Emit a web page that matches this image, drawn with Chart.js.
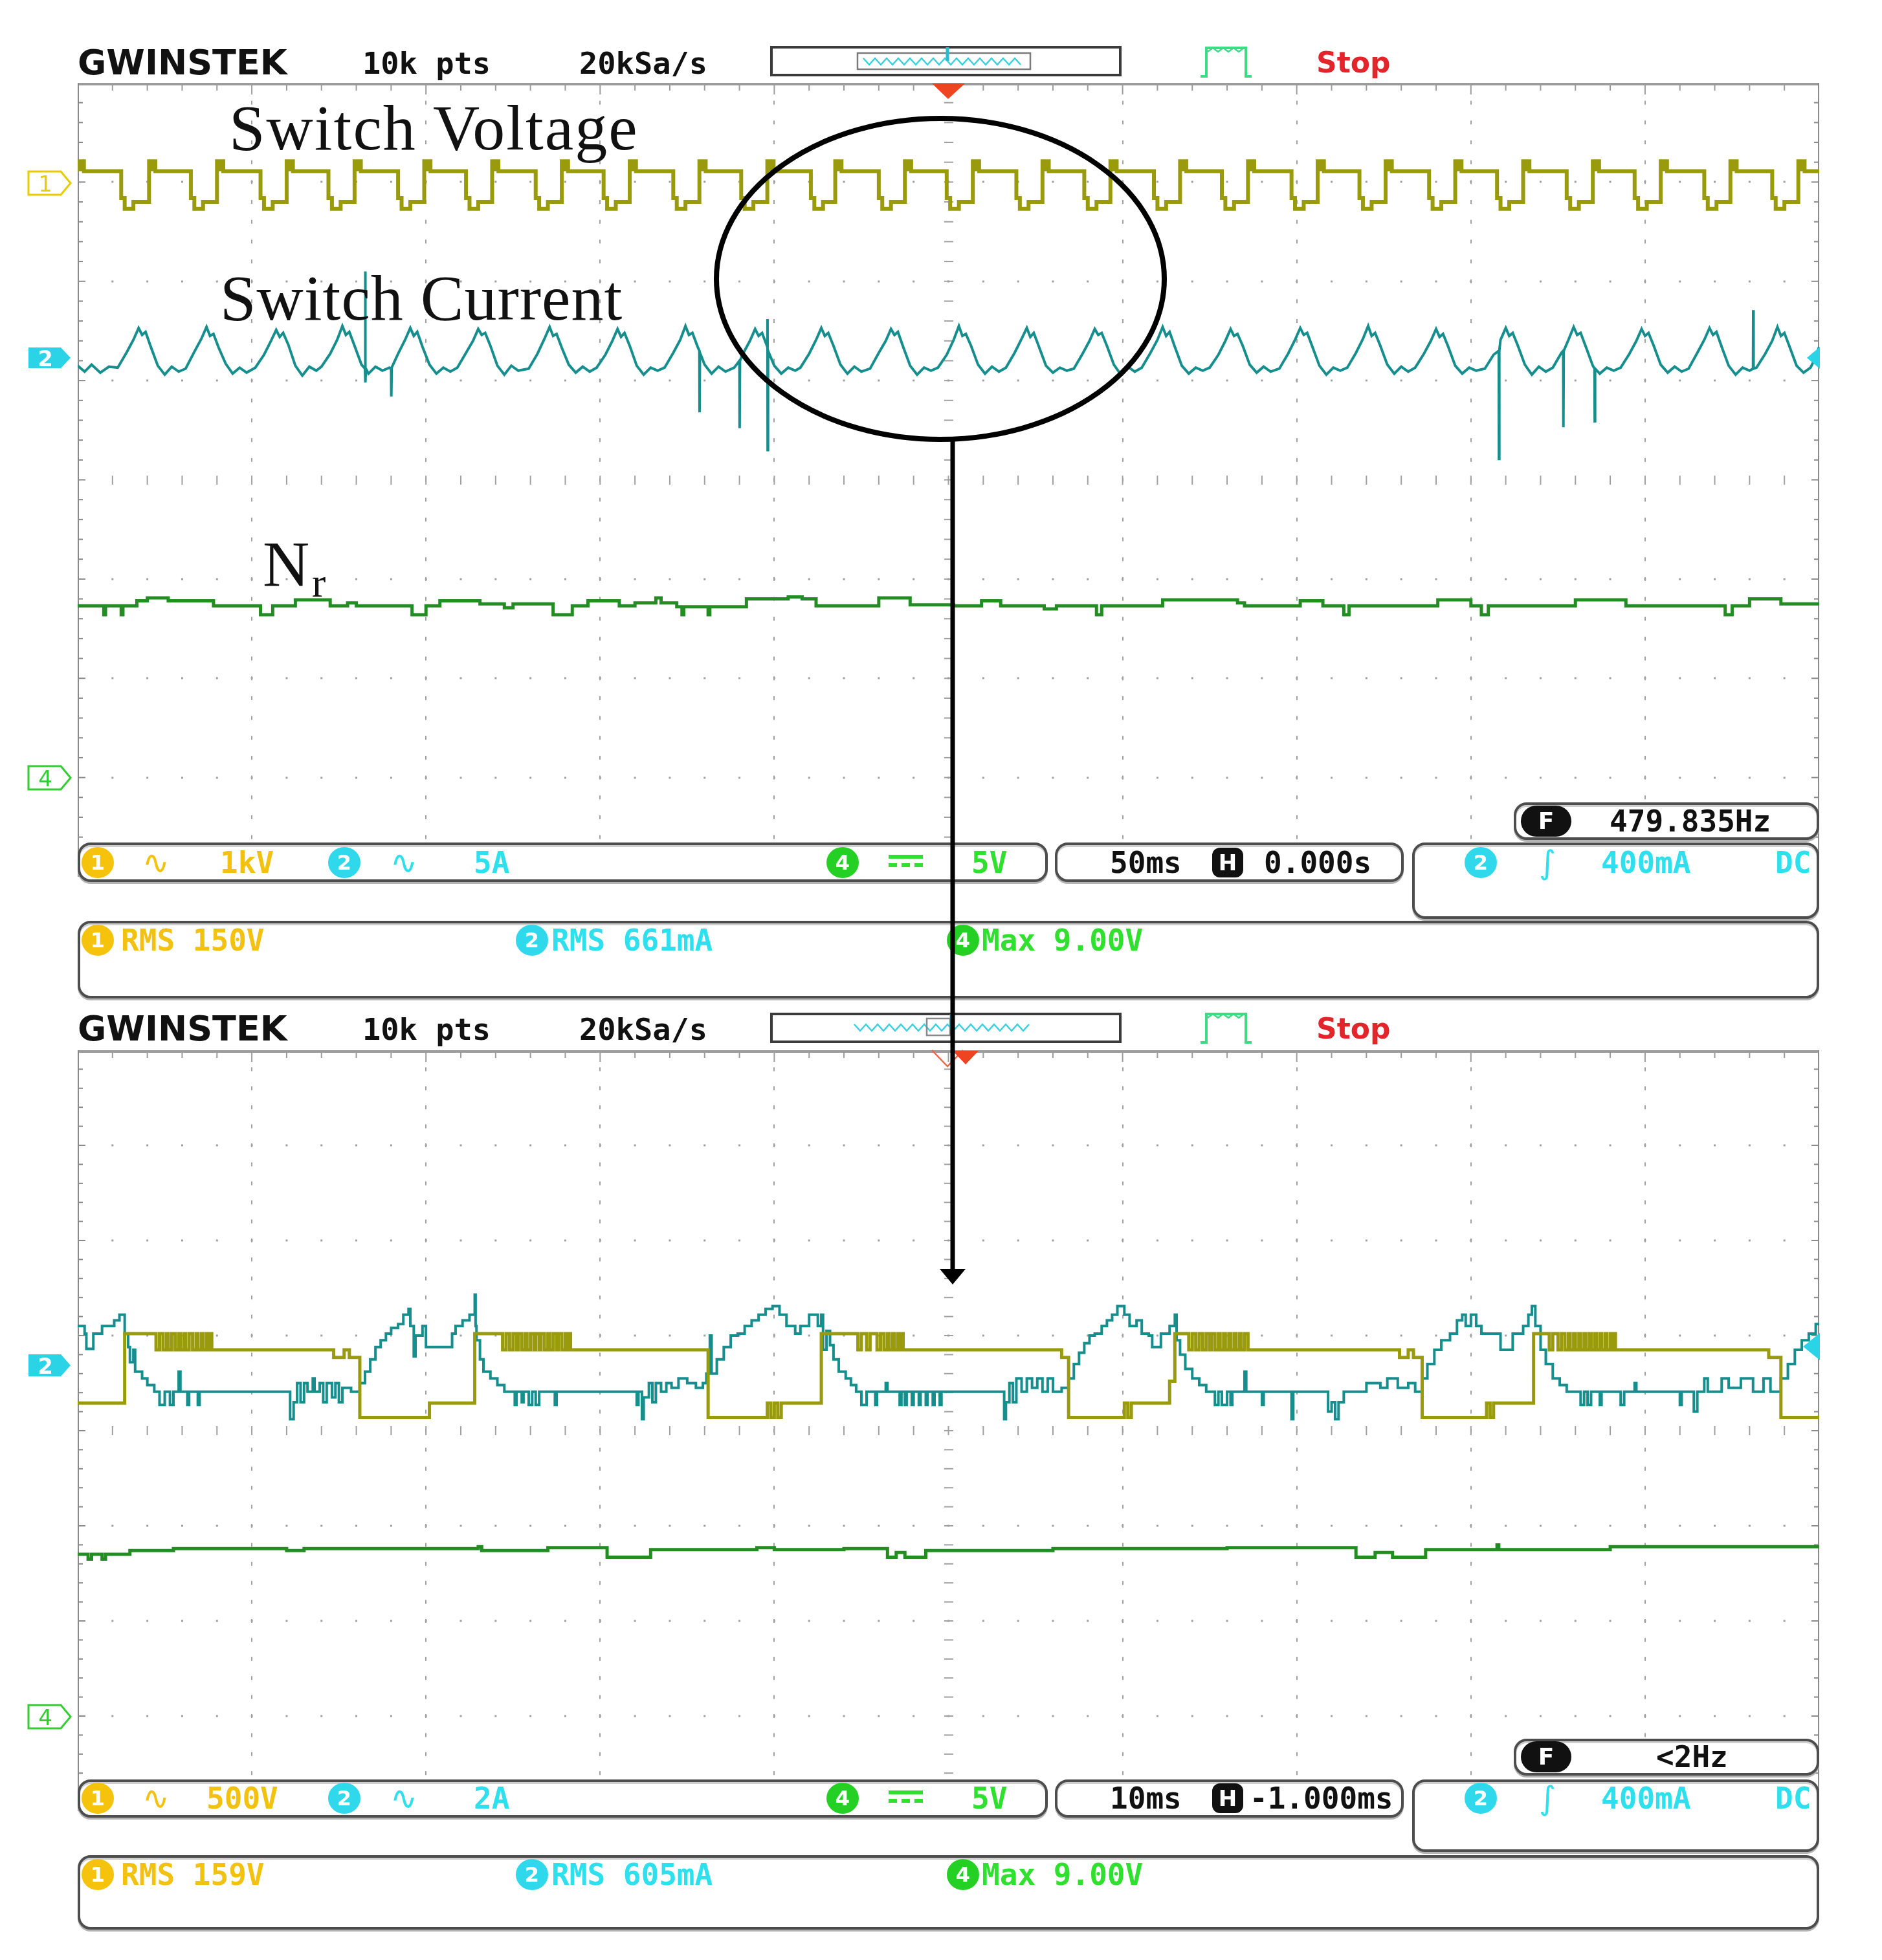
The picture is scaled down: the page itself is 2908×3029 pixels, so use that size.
<!DOCTYPE html>
<html><head><meta charset="utf-8">
<script src="https://cdn.jsdelivr.net/npm/chart.js@4.4.0/dist/chart.umd.min.js"></script>
<style>
html,body{margin:0;padding:0;background:#fff;}
body{width:2908px;height:3029px;position:relative;overflow:hidden;}
canvas{position:absolute;z-index:1;}
.abs{position:absolute;}
.bar{position:absolute;box-sizing:border-box;border:4px solid #4d4d4d;border-radius:20px;background:#fff;box-shadow:0 3px 0 #b4b4b4, inset 0 3px 0 #cfcfcf;z-index:4;}
.t{position:absolute;font-family:'DejaVu Sans Mono',monospace;font-size:46px;line-height:1;transform:translateY(-50%);white-space:pre;z-index:5;font-weight:bold;}
.k{color:#111;}
.y{color:#f3c210;}
.c{color:#2ee0ee;}
.g{color:#2fe02f;}
.sym{font-family:'DejaVu Sans',sans-serif;font-size:50px;font-weight:normal;}
.ci{position:absolute;width:50px;height:48px;border-radius:50%;color:#fff;font:bold 32px 'DejaVu Sans',sans-serif;text-align:center;line-height:48px;transform:translateY(-50%);z-index:5;}
.cy{background:#f5c20c;}
.cc{background:#2fd8ea;}
.cg{background:#25d025;}
.hicon{position:absolute;width:48px;height:46px;background:#111;border-radius:12px;color:#fff;font:bold 34px 'DejaVu Sans',sans-serif;text-align:center;line-height:46px;transform:translateY(-50%);z-index:5;}
.ficon{position:absolute;width:78px;height:48px;background:#111;border-radius:24px;color:#fff;font:bold 36px 'DejaVu Sans',sans-serif;text-align:center;line-height:48px;transform:translateY(-50%);z-index:5;}
.hdr{position:absolute;font-family:'DejaVu Sans Mono',monospace;font-weight:bold;font-size:47px;line-height:1;transform:translateY(-50%);color:#111;white-space:pre;z-index:3;}
.logo{position:absolute;font-family:'DejaVu Sans',sans-serif;font-weight:bold;font-size:54px;line-height:1;transform:translateY(-50%);color:#111;z-index:3;}
.stop{position:absolute;font-family:'DejaVu Sans',sans-serif;font-weight:bold;font-size:44px;line-height:1;transform:translateY(-50%);color:#e3242b;z-index:3;}
.ann{position:absolute;font-family:'Liberation Serif','Times New Roman',serif;color:#111;line-height:1;white-space:pre;z-index:3;}
svg{position:absolute;left:0;top:0;}
</style></head><body>
<script>
// ===== DATA (x in divisions 0..10, y in divisions -4..4) =====
// Top screen, 50ms/div
const TOP_CH1 = [
[0.000,3.21],[0.012,3.13],[0.024,3.21],[0.036,3.11],[0.25,2.84],[0.27,2.73],[0.32,2.80],
[0.410,3.21],[0.422,3.13],[0.434,3.21],[0.446,3.11],[0.65,2.84],[0.67,2.73],[0.72,2.80],
[0.800,3.21],[0.812,3.13],[0.824,3.21],[0.836,3.11],[1.05,2.84],[1.07,2.73],[1.12,2.80],
[1.200,3.21],[1.212,3.13],[1.224,3.21],[1.236,3.11],[1.44,2.84],[1.46,2.73],[1.51,2.80],
[1.590,3.21],[1.602,3.13],[1.614,3.21],[1.626,3.11],[1.84,2.84],[1.86,2.73],[1.91,2.80],
[1.990,3.21],[2.002,3.13],[2.014,3.21],[2.026,3.11],[2.23,2.84],[2.25,2.73],[2.30,2.80],
[2.380,3.21],[2.392,3.13],[2.404,3.21],[2.416,3.11],[2.63,2.84],[2.65,2.73],[2.70,2.80],
[2.780,3.21],[2.792,3.13],[2.804,3.21],[2.816,3.11],[3.02,2.84],[3.04,2.73],[3.09,2.80],
[3.170,3.21],[3.182,3.13],[3.194,3.21],[3.206,3.11],[3.42,2.84],[3.44,2.73],[3.49,2.80],
[3.570,3.21],[3.582,3.13],[3.594,3.21],[3.606,3.11],[3.81,2.84],[3.83,2.73],[3.88,2.80],
[3.960,3.21],[3.972,3.13],[3.984,3.21],[3.996,3.11],[4.21,2.84],[4.23,2.73],[4.28,2.80],
[4.350,3.21],[4.362,3.13],[4.374,3.21],[4.386,3.11],[4.60,2.84],[4.62,2.73],[4.67,2.80],
[4.750,3.21],[4.762,3.13],[4.774,3.21],[4.786,3.11],[4.99,2.84],[5.01,2.73],[5.06,2.80],
[5.140,3.21],[5.152,3.13],[5.164,3.21],[5.176,3.11],[5.39,2.84],[5.41,2.73],[5.46,2.80],
[5.540,3.21],[5.552,3.13],[5.564,3.21],[5.576,3.11],[5.78,2.84],[5.80,2.73],[5.85,2.80],
[5.930,3.21],[5.942,3.13],[5.954,3.21],[5.966,3.11],[6.18,2.84],[6.20,2.73],[6.25,2.80],
[6.330,3.21],[6.342,3.13],[6.354,3.21],[6.366,3.11],[6.57,2.84],[6.59,2.73],[6.64,2.80],
[6.720,3.21],[6.732,3.13],[6.744,3.21],[6.756,3.11],[6.97,2.84],[6.99,2.73],[7.04,2.80],
[7.120,3.21],[7.132,3.13],[7.144,3.21],[7.156,3.11],[7.36,2.84],[7.38,2.73],[7.43,2.80],
[7.510,3.21],[7.522,3.13],[7.534,3.21],[7.546,3.11],[7.76,2.84],[7.78,2.73],[7.83,2.80],
[7.910,3.21],[7.922,3.13],[7.934,3.21],[7.946,3.11],[8.15,2.84],[8.17,2.73],[8.22,2.80],
[8.300,3.21],[8.312,3.13],[8.324,3.21],[8.336,3.11],[8.55,2.84],[8.57,2.73],[8.62,2.80],
[8.700,3.21],[8.712,3.13],[8.724,3.21],[8.736,3.11],[8.94,2.84],[8.96,2.73],[9.01,2.80],
[9.090,3.21],[9.102,3.13],[9.114,3.21],[9.126,3.11],[9.34,2.84],[9.36,2.73],[9.41,2.80],
[9.490,3.21],[9.502,3.13],[9.514,3.21],[9.526,3.11],[9.73,2.84],[9.75,2.73],[9.80,2.80],
[9.880,3.21],[9.892,3.13],[9.904,3.21],[9.916,3.11],[10.00,3.11]
];
const TOP_CH2 = [
[0.00,1.15],[0.04,1.09],[0.08,1.16],[0.13,1.08],[0.18,1.14],
[0.23,1.13],[0.28,1.28],[0.32,1.41],[0.35,1.53],[0.37,1.46],[0.39,1.49],[0.42,1.34],[0.46,1.15],[0.50,1.06],[0.54,1.14],[0.58,1.09],
[0.62,1.12],[0.67,1.29],[0.71,1.42],[0.74,1.54],[0.76,1.45],[0.78,1.47],[0.81,1.33],[0.85,1.17],[0.89,1.07],[0.93,1.13],[0.97,1.08],
[1.02,1.13],[1.07,1.26],[1.11,1.40],[1.14,1.51],[1.16,1.44],[1.18,1.48],[1.21,1.36],[1.25,1.15],[1.29,1.05],[1.33,1.14],[1.37,1.10],
[1.40,1.14],[1.45,1.27],[1.49,1.41],[1.52,1.55],[1.54,1.46],[1.56,1.49],[1.59,1.35],[1.63,1.16],[1.65,1.12],[1.651,2.10],[1.653,0.98],[1.655,1.12],[1.67,1.07],[1.71,1.14],[1.75,1.10],
[1.79,1.13],[1.80,1.12],[1.801,0.84],[1.803,1.13],[1.84,1.27],[1.88,1.41],[1.91,1.53],[1.93,1.45],[1.95,1.49],[1.98,1.34],[2.02,1.16],[2.06,1.07],[2.10,1.13],[2.14,1.09],
[2.18,1.13],[2.23,1.28],[2.27,1.40],[2.30,1.52],[2.32,1.46],[2.34,1.48],[2.37,1.35],[2.41,1.15],[2.45,1.06],[2.49,1.15],[2.53,1.10],
[2.59,1.12],[2.64,1.27],[2.68,1.42],[2.71,1.54],[2.73,1.45],[2.75,1.47],[2.78,1.33],[2.82,1.16],[2.86,1.08],[2.90,1.14],[2.94,1.09],
[2.98,1.13],[3.03,1.26],[3.07,1.40],[3.10,1.52],[3.12,1.44],[3.14,1.48],[3.17,1.35],[3.21,1.15],[3.25,1.06],[3.29,1.13],[3.33,1.10],
[3.37,1.13],[3.42,1.28],[3.46,1.41],[3.49,1.55],[3.51,1.46],[3.53,1.48],[3.56,1.34],[3.57,1.30],[3.571,0.68],[3.573,1.28],[3.60,1.16],[3.64,1.07],[3.68,1.14],[3.72,1.09],
[3.77,1.13],[3.80,1.20],[3.801,0.52],[3.803,1.20],[3.82,1.27],[3.86,1.40],[3.89,1.52],[3.91,1.45],[3.93,1.48],[3.96,1.34],[3.961,1.62],[3.962,0.30],[3.964,1.30],[4.00,1.15],[4.04,1.07],[4.08,1.13],[4.12,1.10],
[4.15,1.13],[4.20,1.27],[4.24,1.41],[4.27,1.53],[4.29,1.45],[4.31,1.48],[4.34,1.35],[4.38,1.16],[4.42,1.07],[4.46,1.14],[4.50,1.09],
[4.55,1.12],[4.60,1.28],[4.64,1.40],[4.67,1.52],[4.69,1.46],[4.71,1.49],[4.74,1.34],[4.78,1.15],[4.82,1.06],[4.86,1.13],[4.90,1.10],
[4.94,1.13],[4.99,1.26],[5.03,1.41],[5.06,1.55],[5.08,1.45],[5.10,1.47],[5.13,1.35],[5.17,1.16],[5.21,1.07],[5.25,1.14],[5.29,1.09],
[5.33,1.13],[5.38,1.28],[5.42,1.42],[5.45,1.53],[5.47,1.44],[5.49,1.48],[5.52,1.34],[5.56,1.15],[5.60,1.08],[5.64,1.13],[5.68,1.10],
[5.72,1.12],[5.77,1.27],[5.81,1.40],[5.84,1.52],[5.86,1.46],[5.88,1.48],[5.91,1.35],[5.95,1.16],[5.99,1.06],[6.03,1.14],[6.07,1.09],
[6.11,1.13],[6.16,1.28],[6.20,1.41],[6.23,1.54],[6.25,1.45],[6.27,1.49],[6.30,1.34],[6.34,1.15],[6.38,1.07],[6.42,1.13],[6.46,1.10],
[6.50,1.13],[6.55,1.26],[6.59,1.40],[6.62,1.52],[6.64,1.45],[6.66,1.47],[6.69,1.35],[6.73,1.16],[6.77,1.08],[6.81,1.14],[6.85,1.09],
[6.90,1.12],[6.95,1.27],[6.99,1.41],[7.02,1.53],[7.04,1.46],[7.06,1.48],[7.09,1.34],[7.13,1.15],[7.17,1.06],[7.21,1.13],[7.25,1.10],
[7.29,1.13],[7.34,1.28],[7.38,1.42],[7.41,1.55],[7.43,1.45],[7.45,1.48],[7.48,1.35],[7.52,1.16],[7.56,1.07],[7.60,1.14],[7.64,1.09],
[7.68,1.13],[7.73,1.27],[7.77,1.40],[7.80,1.52],[7.82,1.44],[7.84,1.47],[7.87,1.34],[7.91,1.15],[7.95,1.07],[7.99,1.13],[8.03,1.10],
[8.08,1.12],[8.13,1.26],[8.16,1.30],[8.161,0.21],[8.163,1.30],[8.17,1.41],[8.20,1.53],[8.22,1.45],[8.24,1.48],[8.27,1.35],[8.31,1.16],[8.35,1.06],[8.39,1.14],[8.43,1.09],
[8.47,1.13],[8.52,1.28],[8.53,1.30],[8.531,0.53],[8.533,1.30],[8.56,1.41],[8.59,1.54],[8.61,1.46],[8.63,1.48],[8.66,1.34],[8.70,1.15],[8.71,1.12],[8.711,0.59],[8.713,1.12],[8.74,1.07],[8.78,1.13],[8.82,1.10],
[8.86,1.13],[8.91,1.27],[8.95,1.40],[8.98,1.52],[9.00,1.45],[9.02,1.48],[9.05,1.35],[9.09,1.16],[9.13,1.08],[9.17,1.14],[9.21,1.09],
[9.25,1.12],[9.30,1.28],[9.34,1.41],[9.37,1.53],[9.39,1.46],[9.41,1.49],[9.44,1.34],[9.48,1.15],[9.52,1.06],[9.56,1.13],[9.60,1.10],[9.62,1.12],[9.621,1.71],[9.623,1.12],
[9.64,1.13],[9.69,1.27],[9.73,1.40],[9.76,1.54],[9.78,1.45],[9.80,1.48],[9.83,1.34],[9.87,1.15],[9.91,1.08],[9.95,1.13],[9.97,1.20],[10.00,1.34]
];
const TOP_CH4 = [
[0.00,-1.27],[0.15,-1.36],[0.16,-1.27],[0.25,-1.36],[0.26,-1.27],[0.34,-1.22],[0.40,-1.19],[0.52,-1.22],[0.78,-1.27],
[1.05,-1.36],[1.12,-1.27],[1.25,-1.21],[1.45,-1.27],[1.55,-1.24],[1.60,-1.27],[1.92,-1.36],[2.00,-1.27],
[2.08,-1.22],[2.31,-1.25],[2.45,-1.29],[2.50,-1.25],[2.73,-1.36],[2.84,-1.27],[2.93,-1.22],[3.11,-1.27],
[3.20,-1.24],[3.32,-1.19],[3.35,-1.24],[3.44,-1.28],[3.47,-1.36],[3.48,-1.28],[3.62,-1.36],[3.63,-1.28],
[3.84,-1.20],[4.08,-1.18],[4.16,-1.20],[4.24,-1.27],[4.60,-1.19],[4.78,-1.26],[5.03,-1.27],[5.19,-1.22],
[5.30,-1.27],[5.55,-1.30],[5.62,-1.27],[5.85,-1.36],[5.88,-1.27],[6.23,-1.21],[6.66,-1.24],[6.70,-1.27],
[7.02,-1.22],[7.15,-1.27],[7.27,-1.36],[7.30,-1.27],[7.81,-1.21],[8.00,-1.27],[8.06,-1.36],[8.10,-1.27],
[8.60,-1.21],[8.89,-1.27],[9.46,-1.36],[9.50,-1.27],[9.60,-1.20],[9.78,-1.25],[10.00,-1.25]
];
// Bottom screen, 10ms/div
const BOT_CH1 = [
[0.00,0.29],
[0.27,1.02],[0.45,0.85],[0.47,1.02],[0.49,0.85],[0.51,1.02],[0.52,0.85],[0.54,1.02],[0.56,0.85],[0.58,1.02],[0.59,0.85],[0.61,1.02],[0.62,0.85],[0.64,1.02],[0.66,0.85],[0.68,1.02],[0.69,0.85],[0.71,1.02],[0.72,0.85],[0.74,1.02],[0.75,0.85],[0.76,1.02],[0.77,0.85],
[1.47,0.77],[1.53,0.85],[1.56,0.77],[1.62,0.14],[2.02,0.29],
[2.28,1.02],[2.44,0.85],[2.46,1.02],[2.48,0.85],[2.50,1.02],[2.52,0.85],[2.53,1.02],[2.55,0.85],[2.57,1.02],[2.58,0.85],[2.60,1.02],[2.62,0.85],[2.63,1.02],[2.65,0.85],[2.66,1.02],[2.68,0.85],[2.70,1.02],[2.71,0.85],[2.73,1.02],[2.75,0.85],[2.76,1.02],[2.78,0.85],[2.80,1.02],[2.81,0.85],[2.82,1.02],[2.83,0.85],
[3.62,0.14],[3.96,0.29],[3.98,0.14],[4.00,0.29],[4.02,0.14],[4.04,0.29],
[4.27,1.02],[4.48,0.85],[4.50,1.02],[4.53,0.85],[4.55,1.02],[4.59,0.85],[4.61,1.02],[4.63,0.85],[4.65,1.02],[4.66,0.85],[4.68,1.02],[4.69,0.85],[4.71,1.02],[4.72,0.85],[4.73,1.02],[4.74,0.85],
[5.65,0.77],[5.69,0.14],[6.01,0.29],[6.03,0.14],[6.05,0.29],[6.27,0.52],
[6.30,1.02],[6.38,0.85],[6.40,1.02],[6.42,0.85],[6.44,1.02],[6.46,0.85],[6.48,1.02],[6.50,0.85],[6.51,1.02],[6.53,0.85],[6.55,1.02],[6.56,0.85],[6.58,1.02],[6.59,0.85],[6.61,1.02],[6.62,0.85],[6.64,1.02],[6.65,0.85],[6.67,1.02],[6.68,0.85],[6.70,1.02],[6.72,0.85],
[7.59,0.77],[7.64,0.85],[7.67,0.77],[7.72,0.14],[8.09,0.29],[8.11,0.14],[8.13,0.29],
[8.36,1.02],[8.45,0.85],[8.47,1.02],[8.50,0.85],[8.52,1.02],[8.54,0.85],[8.56,1.02],[8.57,0.85],[8.59,1.02],[8.60,0.85],[8.62,1.02],[8.63,0.85],[8.65,1.02],[8.66,0.85],[8.68,1.02],[8.69,0.85],[8.71,1.02],[8.72,0.85],[8.74,1.02],[8.75,0.85],[8.77,1.02],[8.78,0.85],[8.80,1.02],[8.81,0.85],[8.82,1.02],[8.83,0.85],
[9.71,0.77],[9.78,0.14],[10.00,0.14]
];
const BOT_CH2 = [
[0.00,1.10],[0.04,1.02],[0.05,0.86],[0.09,1.02],[0.14,1.10],[0.21,1.16],[0.24,1.22],[0.27,1.02],[0.29,0.88],[0.30,0.72],[0.32,0.85],[0.33,0.62],[0.37,0.55],[0.40,0.48],[0.44,0.41],
[0.47,0.27],[0.50,0.41],[0.53,0.27],[0.55,0.41],[0.58,0.62],[0.59,0.41],[0.63,0.27],[0.64,0.41],[0.69,0.27],[0.70,0.41],
[1.22,0.12],[1.24,0.30],[1.26,0.50],[1.28,0.30],[1.30,0.50],[1.32,0.41],[1.35,0.55],[1.36,0.41],[1.39,0.50],[1.41,0.30],[1.43,0.50],[1.46,0.35],[1.48,0.50],[1.50,0.30],[1.52,0.45],[1.57,0.41],
[1.62,0.50],[1.65,0.62],[1.68,0.75],[1.71,0.88],[1.74,0.95],[1.77,1.02],[1.80,1.08],[1.84,1.12],[1.87,1.22],[1.90,1.28],[1.91,1.10],[1.93,0.78],[1.94,1.00],[1.98,1.10],[2.00,0.88],[2.15,1.02],[2.17,1.10],[2.21,1.16],[2.25,1.22],[2.28,1.43],[2.285,1.10],[2.29,0.95],[2.31,0.75],[2.33,0.62],[2.37,0.55],[2.41,0.48],[2.45,0.41],
[2.51,0.27],[2.52,0.41],[2.55,0.30],[2.56,0.41],[2.59,0.27],[2.61,0.41],[2.63,0.27],[2.65,0.41],[2.74,0.27],[2.75,0.41],
[3.21,0.27],[3.22,0.41],[3.24,0.12],[3.25,0.35],[3.28,0.50],[3.30,0.30],[3.32,0.50],[3.35,0.41],[3.38,0.50],[3.41,0.45],[3.45,0.55],[3.50,0.50],[3.55,0.45],[3.59,0.50],
[3.61,0.60],[3.63,1.00],[3.64,0.60],[3.67,0.75],[3.71,0.88],[3.75,1.00],[3.79,1.02],[3.83,1.10],[3.87,1.16],[3.91,1.22],[3.95,1.28],[3.99,1.31],[4.03,1.22],[4.07,1.10],[4.12,1.02],[4.15,1.10],[4.20,1.22],[4.25,1.10],[4.27,1.22],[4.28,0.85],[4.30,1.05],[4.32,0.90],[4.34,0.75],[4.37,0.62],[4.41,0.55],[4.44,0.48],[4.47,0.41],
[4.50,0.27],[4.53,0.41],[4.58,0.27],[4.59,0.41],[4.64,0.50],[4.65,0.41],[4.72,0.27],[4.73,0.41],[4.75,0.27],[4.76,0.41],[4.79,0.27],[4.80,0.41],[4.83,0.27],[4.84,0.41],[4.87,0.27],[4.88,0.41],[4.91,0.27],[4.92,0.41],[4.95,0.27],[4.96,0.41],
[5.32,0.12],[5.33,0.30],[5.35,0.50],[5.37,0.30],[5.39,0.55],[5.42,0.41],[5.45,0.55],[5.48,0.45],[5.51,0.55],[5.54,0.41],[5.57,0.55],[5.60,0.41],[5.65,0.45],
[5.69,0.55],[5.72,0.70],[5.75,0.82],[5.78,0.92],[5.81,1.00],[5.84,1.02],[5.88,1.10],[5.91,1.16],[5.94,1.22],[5.97,1.31],[6.01,1.22],[6.04,1.10],[6.08,1.16],[6.11,1.02],[6.15,1.00],[6.17,0.88],[6.22,1.02],[6.27,1.10],[6.30,1.22],[6.31,0.95],[6.33,0.80],[6.36,0.65],[6.40,0.55],[6.44,0.48],[6.48,0.41],
[6.53,0.27],[6.55,0.41],[6.57,0.27],[6.60,0.41],[6.62,0.27],[6.63,0.41],[6.70,0.62],[6.71,0.41],[6.80,0.27],[6.81,0.41],[6.97,0.12],[6.98,0.41],[7.18,0.20],[7.20,0.30],[7.22,0.12],[7.24,0.30],[7.27,0.41],[7.40,0.50],[7.48,0.45],[7.52,0.55],[7.58,0.45],[7.64,0.50],[7.68,0.41],
[7.72,0.55],[7.75,0.70],[7.79,0.85],[7.83,0.95],[7.88,1.02],[7.92,1.16],[7.95,1.22],[7.97,1.10],[8.00,1.22],[8.03,1.10],[8.06,1.02],[8.17,0.85],[8.24,1.02],[8.30,1.10],[8.33,1.22],[8.35,1.31],[8.37,1.10],[8.40,0.85],[8.43,0.70],[8.47,0.55],[8.51,0.48],[8.55,0.41],
[8.63,0.27],[8.65,0.41],[8.67,0.27],[8.69,0.41],[8.74,0.27],[8.75,0.41],[8.86,0.27],[8.88,0.41],[8.94,0.50],[8.95,0.41],[9.20,0.27],[9.21,0.41],[9.28,0.20],[9.30,0.41],[9.34,0.55],[9.36,0.41],[9.44,0.55],[9.48,0.45],[9.55,0.55],[9.62,0.41],[9.68,0.55],[9.72,0.41],
[9.78,0.55],[9.82,0.70],[9.86,0.85],[9.90,0.95],[9.94,1.02],[9.98,1.12],[10.00,1.12]
];
const BOT_CH4 = [
[0.00,-1.30],[0.06,-1.35],[0.08,-1.30],[0.14,-1.35],[0.16,-1.30],[0.30,-1.26],[0.55,-1.24],[1.20,-1.26],[1.30,-1.24],
[2.30,-1.22],[2.32,-1.26],[2.70,-1.23],[3.04,-1.33],[3.29,-1.25],[3.90,-1.23],[4.00,-1.25],[4.40,-1.24],
[4.65,-1.33],[4.70,-1.28],[4.75,-1.33],[4.87,-1.26],[5.60,-1.24],[6.60,-1.23],[7.34,-1.33],[7.45,-1.28],
[7.55,-1.33],[7.74,-1.25],[8.15,-1.20],[8.16,-1.25],[8.80,-1.22],[10.00,-1.22]
];
const TRACE_COLORS = {ch1:'#999a0c', ch2:'#178e8e', ch4:'#238d23'};
</script>

<canvas id="c1" width="2691" height="1227" style="left:120px;top:128px"></canvas>
<canvas id="c2" width="2691" height="1176" style="left:120px;top:1623px"></canvas>

<svg id="deco" width="2908" height="3029" style="z-index:2">
  <rect x="1192" y="73" width="539" height="43" fill="#fff" stroke="#3a3a3a" stroke-width="4"/>
  <rect x="1325" y="82" width="267" height="25" fill="none" stroke="#7a7a7a" stroke-width="2.5"/>
  <polyline id="zz1" fill="none" stroke="#36d0e0" stroke-width="2.5"/>
  <line x1="1464" y1="73" x2="1464" y2="94" stroke="#22c0d0" stroke-width="5"/>
  <polyline points="1855,118 1864,118 1864,74 1925,74 1925,118 1934,118" fill="none" stroke="#3ddc84" stroke-width="4"/>
  <polyline points="1866,80 1874,74 1882,80 1890,74 1898,80 1906,74 1914,80 1922,74" fill="none" stroke="#3ddc84" stroke-width="2.5"/>
  <polygon points="1440,129 1491,129 1465,153" fill="#ee4422"/>
  <rect x="1192" y="1567" width="539" height="43" fill="#fff" stroke="#3a3a3a" stroke-width="4"/>
  <polyline id="zz2" fill="none" stroke="#36d0e0" stroke-width="2.5"/>
  <rect x="1432" y="1574" width="36" height="26" fill="none" stroke="#888" stroke-width="2.5"/>
  <line x1="1470" y1="1567" x2="1470" y2="1590" stroke="#22c0d0" stroke-width="5"/>
  <polyline points="1855,1611 1864,1611 1864,1567 1925,1567 1925,1611 1934,1611" fill="none" stroke="#3ddc84" stroke-width="4"/>
  <polyline points="1866,1573 1874,1567 1882,1573 1890,1567 1898,1573 1906,1567 1914,1573 1922,1567" fill="none" stroke="#3ddc84" stroke-width="2.5"/>
  <polyline points="1440,1623 1464,1648 1488,1623" fill="none" stroke="#ee6644" stroke-width="2.5"/>
  <polygon points="1472,1624 1512,1624 1492,1645" fill="#ee4422"/>
  <polygon points="44,265 94,265 109,283 94,301 44,301" fill="#fff" stroke="#e6cc00" stroke-width="3"/>
  <text x="70" y="296" font-family="DejaVu Sans" font-size="34" fill="#e6cc00" text-anchor="middle">1</text>
  <polygon points="44,537 94,537 109,553 94,569 44,569" fill="#2ad4e6"/>
  <text x="70" y="566" font-family="DejaVu Sans" font-weight="bold" font-size="34" fill="#fff" text-anchor="middle">2</text>
  <polygon points="44,1184 94,1184 109,1202 94,1220 44,1220" fill="#fff" stroke="#33cc33" stroke-width="3"/>
  <text x="70" y="1215" font-family="DejaVu Sans" font-size="34" fill="#33cc33" text-anchor="middle">4</text>
  <polygon points="44,2093 94,2093 109,2110 94,2127 44,2127" fill="#2ad4e6"/>
  <text x="70" y="2123" font-family="DejaVu Sans" font-weight="bold" font-size="34" fill="#fff" text-anchor="middle">2</text>
  <polygon points="44,2635 94,2635 109,2653 94,2671 44,2671" fill="#fff" stroke="#33cc33" stroke-width="3"/>
  <text x="70" y="2666" font-family="DejaVu Sans" font-size="34" fill="#33cc33" text-anchor="middle">4</text>
  <polygon points="2812,536 2812,570 2792,553" fill="#2ad4e6"/>
  <polygon points="2812,2060 2812,2102 2786,2081" fill="#2ad4e6"/>
</svg>

<div class="logo" style="left:120px;top:97px">GWINSTEK</div>
<div class="hdr" style="left:560px;top:97px">10k pts</div>
<div class="hdr" style="left:895px;top:97px">20kSa/s</div>
<div class="stop" style="left:2034px;top:97px">Stop</div>
<div class="logo" style="left:120px;top:1590px">GWINSTEK</div>
<div class="hdr" style="left:560px;top:1590px">10k pts</div>
<div class="hdr" style="left:895px;top:1590px">20kSa/s</div>
<div class="stop" style="left:2034px;top:1590px">Stop</div>

<div class="ann" style="left:354px;top:148px;font-size:100px;letter-spacing:2px">Switch Voltage</div>
<div class="ann" style="left:340px;top:411px;font-size:100px;letter-spacing:1px">Switch Current</div>
<div class="ann" style="left:406px;top:822px;font-size:100px">N</div>
<div class="ann" style="left:482px;top:869px;font-size:64px">r</div>

<div class="bar" style="left:120px;top:1302px;width:1499px;height:61px"></div>
<div class="bar" style="left:1630px;top:1302px;width:539px;height:61px"></div>
<div class="bar" style="left:2182px;top:1302px;width:629px;height:118px"></div>
<div class="bar" style="left:2339px;top:1240px;width:472px;height:58px"></div>
<div class="bar" style="left:120px;top:1423px;width:2691px;height:120px"></div>
<div class="ci cy" style="left:126px;top:1333px">1</div>
<div class="t y sym" style="left:220px;top:1333px">∿</div>
<div class="t y" style="left:340px;top:1333px">1kV</div>
<div class="ci cc" style="left:507px;top:1333px">2</div>
<div class="t c sym" style="left:603px;top:1333px">∿</div>
<div class="t c" style="left:732px;top:1333px">5A</div>
<div class="ci cg" style="left:1277px;top:1333px">4</div>
<div class="abs" style="left:1373px;top:1321px;width:53px;height:6px;background:#2fe02f;z-index:5"></div>
<div class="abs" style="left:1373px;top:1334px;width:53px;height:6px;background:repeating-linear-gradient(90deg,#2fe02f 0 13px,transparent 13px 20px);z-index:5"></div>
<div class="t g" style="left:1501px;top:1333px">5V</div>
<div class="t k" style="left:1715px;top:1333px">50ms</div>
<div class="hicon" style="left:1873px;top:1333px">H</div>
<div class="t k" style="left:1953px;top:1333px">0.000s</div>
<div class="ci cc" style="left:2263px;top:1333px">2</div>
<div class="t c sym" style="left:2378px;top:1333px">∫</div>
<div class="t c" style="left:2474px;top:1333px">400mA</div>
<div class="t c" style="left:2743px;top:1333px">DC</div>
<div class="ficon" style="left:2350px;top:1269px">F</div>
<div class="t k" style="left:2487px;top:1269px">479.835Hz</div>
<div class="ci cy" style="left:126px;top:1453px">1</div>
<div class="t y" style="left:187px;top:1453px">RMS 150V</div>
<div class="ci cc" style="left:797px;top:1453px">2</div>
<div class="t c" style="left:852px;top:1453px">RMS 661mA</div>
<div class="ci cg" style="left:1463px;top:1453px">4</div>
<div class="t g" style="left:1517px;top:1453px">Max 9.00V</div>

<div class="bar" style="left:120px;top:2750px;width:1499px;height:59px"></div>
<div class="bar" style="left:1630px;top:2750px;width:539px;height:59px"></div>
<div class="bar" style="left:2182px;top:2750px;width:629px;height:112px"></div>
<div class="bar" style="left:2339px;top:2687px;width:472px;height:57px"></div>
<div class="bar" style="left:120px;top:2867px;width:2691px;height:115px"></div>
<div class="ci cy" style="left:126px;top:2779px">1</div>
<div class="t y sym" style="left:220px;top:2779px">∿</div>
<div class="t y" style="left:319px;top:2779px">500V</div>
<div class="ci cc" style="left:507px;top:2779px">2</div>
<div class="t c sym" style="left:603px;top:2779px">∿</div>
<div class="t c" style="left:732px;top:2779px">2A</div>
<div class="ci cg" style="left:1277px;top:2779px">4</div>
<div class="abs" style="left:1373px;top:2767px;width:53px;height:6px;background:#2fe02f;z-index:5"></div>
<div class="abs" style="left:1373px;top:2780px;width:53px;height:6px;background:repeating-linear-gradient(90deg,#2fe02f 0 13px,transparent 13px 20px);z-index:5"></div>
<div class="t g" style="left:1501px;top:2779px">5V</div>
<div class="t k" style="left:1715px;top:2779px">10ms</div>
<div class="hicon" style="left:1873px;top:2779px">H</div>
<div class="t k" style="left:1931px;top:2779px">-1.000ms</div>
<div class="ci cc" style="left:2263px;top:2779px">2</div>
<div class="t c sym" style="left:2378px;top:2779px">∫</div>
<div class="t c" style="left:2474px;top:2779px">400mA</div>
<div class="t c" style="left:2743px;top:2779px">DC</div>
<div class="ficon" style="left:2350px;top:2715px">F</div>
<div class="t k" style="left:2559px;top:2715px">&lt;2Hz</div>
<div class="ci cy" style="left:126px;top:2897px">1</div>
<div class="t y" style="left:187px;top:2897px">RMS 159V</div>
<div class="ci cc" style="left:797px;top:2897px">2</div>
<div class="t c" style="left:852px;top:2897px">RMS 605mA</div>
<div class="ci cg" style="left:1463px;top:2897px">4</div>
<div class="t g" style="left:1517px;top:2897px">Max 9.00V</div>

<svg width="2908" height="3029" style="z-index:8">
  <ellipse cx="1453" cy="431" rx="346" ry="248" fill="none" stroke="#000" stroke-width="8"/>
  <line x1="1472" y1="678" x2="1472" y2="1966" stroke="#000" stroke-width="7"/>
  <polygon points="1452,1961 1492,1961 1472,1985" fill="#000"/>
</svg>

<script>
function zig(x0,x1,y,a,p){let s='';let i=0;for(let x=x0;x<=x1;x+=p/2){s+=x+','+(y+(i%2?a:-a))+' ';i++;}return s;}
document.getElementById('zz1').setAttribute('points',zig(1334,1584,95,5,18));
document.getElementById('zz2').setAttribute('points',zig(1320,1592,1588,5,18));

const grat = {
  id:'grat',
  beforeDatasetsDraw(ch){
    const c=ch.ctx, X=ch.scales.x, Y=ch.scales.y, W=ch.width, H=ch.height;
    c.save();
    c.fillStyle='#a0a0a0';
    for(let i=1;i<10;i++){
      const px=Math.round(X.getPixelForValue(i));
      for(let j=1;j<40;j++){
        const py=Y.getPixelForValue(-4+j*0.2);
        if(i===5) c.fillRect(px-7,py-1,14,2); else c.fillRect(px-1,py-3,2,6);
      }
    }
    for(let k=-3;k<=3;k++){
      const py=Math.round(Y.getPixelForValue(k));
      for(let j=1;j<50;j++){
        const px=X.getPixelForValue(j*0.2);
        if(k===0) c.fillRect(px-1,py-7,2,14); else c.fillRect(px-1.5,py-1.5,3,3);
      }
    }
    c.fillStyle='#9c9c9c';
    c.fillRect(0,0,W,4);
    for(let j=1;j<50;j++){ const px=X.getPixelForValue(j*0.2); c.fillRect(px-1,4,2,(j%5===0)?14:8); }
    c.fillStyle='#8a8a8a';
    c.fillRect(0,0,2,H); c.fillRect(W-2,0,2,H);
    for(let j=1;j<40;j++){
      const py=Y.getPixelForValue(-4+j*0.2), L=(j%5===0)?10:6;
      c.fillRect(2,py-1,L,2); c.fillRect(W-2-L,py-1,L,2);
    }
    c.restore();
  }
};

function toXY(a){return a.map(p=>({x:p[0],y:p[1]}));}
function scope(id, sets){
  new Chart(document.getElementById(id),{
    type:'line',
    data:{datasets:sets.map(s=>({data:toXY(s.d),borderColor:s.c,borderWidth:s.w,stepped:s.st,pointRadius:0,tension:0,fill:false}))},
    options:{
      responsive:false, animation:false, events:[],
      layout:{padding:0},
      scales:{
        x:{type:'linear',min:0,max:10,display:false},
        y:{type:'linear',min:-4,max:4,display:false}
      },
      plugins:{legend:{display:false},tooltip:{enabled:false}}
    },
    plugins:[grat]
  });
}
scope('c1',[
  {d:TOP_CH1,c:TRACE_COLORS.ch1,w:6,st:true},
  {d:TOP_CH2,c:TRACE_COLORS.ch2,w:4,st:false},
  {d:TOP_CH4,c:TRACE_COLORS.ch4,w:5,st:true}
]);
scope('c2',[
  {d:BOT_CH1,c:TRACE_COLORS.ch1,w:5,st:true},
  {d:BOT_CH2,c:TRACE_COLORS.ch2,w:4,st:true},
  {d:BOT_CH4,c:TRACE_COLORS.ch4,w:5,st:true}
]);
</script>
</body></html>
